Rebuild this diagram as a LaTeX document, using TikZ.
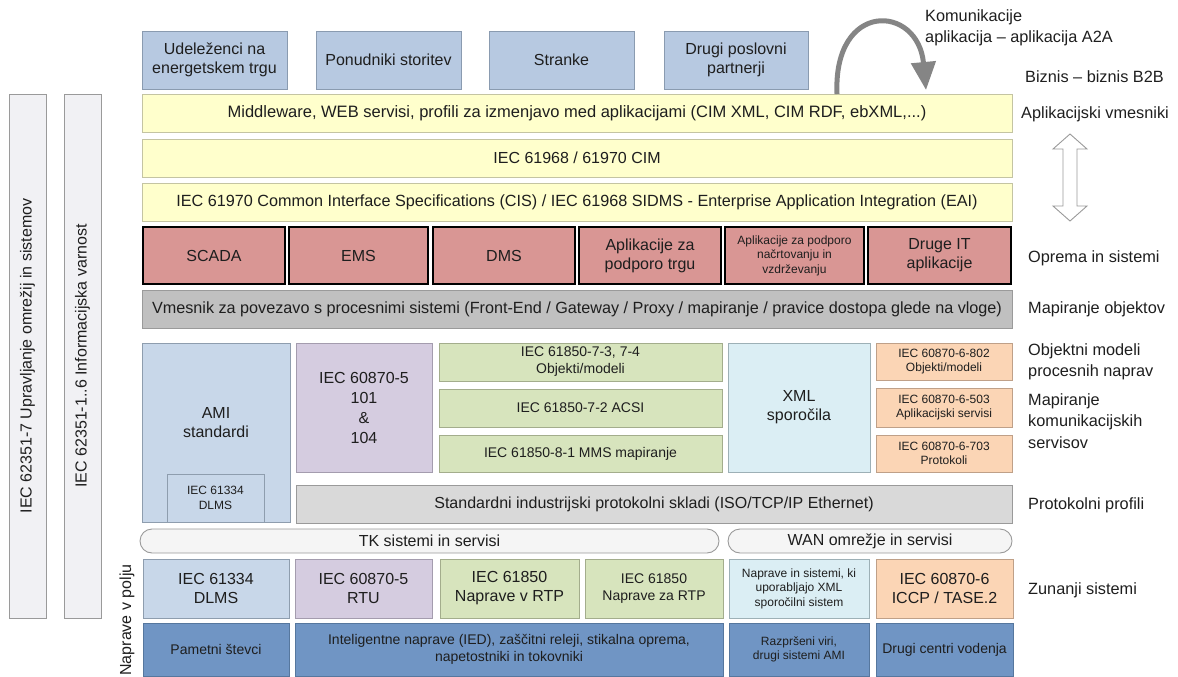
\documentclass[tikz,border=0pt]{standalone}
\usepackage{fontspec}
\setmainfont{Liberation Sans}
\usetikzlibrary{arrows.meta}
\definecolor{txt}{HTML}{1E1E1E}
\definecolor{topblue}{HTML}{B7C9E1}
\definecolor{topblueb}{HTML}{8A9BB0}
\definecolor{yel}{HTML}{FFFFCC}
\definecolor{yelb}{HTML}{C4C4A2}
\definecolor{redf}{HTML}{D99694}
\definecolor{grayband}{HTML}{C0C0C0}
\definecolor{graybandb}{HTML}{9A9A9A}
\definecolor{amiblue}{HTML}{C8D7E9}
\definecolor{amiblueb}{HTML}{8E9DAE}
\definecolor{purp}{HTML}{D5CCE0}
\definecolor{purpb}{HTML}{A49CAE}
\definecolor{grn}{HTML}{D7E4BD}
\definecolor{grnb}{HTML}{A3AD8C}
\definecolor{xmlblue}{HTML}{DBEEF4}
\definecolor{xmlblueb}{HTML}{9DB0B6}
\definecolor{orng}{HTML}{FBD5B5}
\definecolor{orngb}{HTML}{BFA088}
\definecolor{protgray}{HTML}{D9D9D9}
\definecolor{pillf}{HTML}{F5F5F5}
\definecolor{darkblue}{HTML}{7095C4}
\definecolor{darkblueb}{HTML}{56779E}
\definecolor{barf}{HTML}{F1F1F4}
\definecolor{arrgray}{HTML}{858585}
\newcommand\mybox[7]{\node[#1, minimum width={(#4-#2)*1pt}, minimum height={(#5-#3)*1pt}] (#6) at ({(#2+#4)/2},{(#3+#5)/2}) {#7};}
\begin{document}
\begin{tikzpicture}[x=1pt,y=-1pt,
  base/.style={rectangle, draw, line width=0.9pt, inner sep=1pt, align=center, text=txt},
  f16/.style={font=\fontsize{16}{19}\selectfont},
  f15/.style={font=\fontsize{15}{19}\selectfont},
  f14/.style={font=\fontsize{14}{17}\selectfont},
  f13/.style={font=\fontsize{13}{16}\selectfont},
  f12/.style={font=\fontsize{12}{14.5}\selectfont},
  topbox/.style={base, f16, fill=topblue, draw=topblueb},
  yelbox/.style={base, f16, fill=yel, draw=yelb},
  redbox/.style={base, fill=redf, draw=black, line width=2pt},
  graybox/.style={base, f16, fill=grayband, draw=graybandb},
  amibox/.style={base, fill=amiblue, draw=amiblueb},
  purpbox/.style={base, f16, fill=purp, draw=purpb},
  grnbox/.style={base, fill=grn, draw=grnb},
  xmlbox/.style={base, fill=xmlblue, draw=xmlblueb},
  orbox/.style={base, fill=orng, draw=orngb},
  protbox/.style={base, f16, fill=protgray, draw=graybandb},
  pill/.style={base, f16, fill=pillf, draw=graybandb, rounded corners=12pt},
  dbbox/.style={base, fill=darkblue, draw=darkblueb},
  vbar/.style={base, f16, fill=barf, draw=graybandb, rotate=90},
  lbl/.style={anchor=west, inner sep=0, align=left, text=txt, font=\fontsize{16.3}{21.5}\selectfont}
]
\useasboundingbox (0,0) rectangle (1178,677);

% left vertical bars
\node[vbar, minimum width=524pt, minimum height=37pt] (v1) at (27.5,356) {IEC 62351-7 Upravljanje omrežij in sistemov};
\node[vbar, minimum width=524pt, minimum height=37pt] (v2) at (82.5,356) {IEC 62351-1..6 Informacijska varnost};
\node[rotate=90, inner sep=0, text=txt, f16] (polje) at (127,620) {Naprave v polju};

% top boxes
\mybox{topbox}{142}{31}{287}{89}{t1}{Udeleženci na\\energetskem trgu}
\mybox{topbox}{316}{31}{461}{89}{t2}{Ponudniki storitev}
\mybox{topbox}{489}{31}{634}{89}{t3}{Stranke}
\mybox{topbox}{664}{31}{808}{89}{t4}{Drugi poslovni\\partnerji}

% yellow bands
\mybox{yelbox, font=\fontsize{16.5}{19}\selectfont}{142}{94}{1012}{132}{y1}{Middleware, WEB servisi, profili za izmenjavo med aplikacijami (CIM XML, CIM RDF, ebXML,...)}
\mybox{yelbox}{142}{139}{1012}{177}{y2}{IEC 61968 / 61970 CIM}
\mybox{yelbox, font=\fontsize{16.2}{19}\selectfont}{142}{183}{1012}{221}{y3}{IEC 61970 Common Interface Specifications (CIS) / IEC 61968 SIDMS - Enterprise Application Integration (EAI)}

% red boxes
\mybox{redbox,f16}{143}{227}{285}{284}{r1}{SCADA}
\mybox{redbox,f16}{289}{227}{428}{284}{r2}{EMS}
\mybox{redbox,f16}{433}{227}{575}{284}{r3}{DMS}
\mybox{redbox,f16}{579}{227}{721}{284}{r4}{Aplikacije za\\podporo trgu}
\mybox{redbox,f12}{725}{227}{864}{284}{r5}{Aplikacije za podporo\\načrtovanju in\\vzdrževanju}
\mybox{redbox,f16}{868}{227}{1011}{284}{r6}{Druge IT\\aplikacije}

% gray band
\mybox{graybox, font=\fontsize{16.2}{19}\selectfont}{142}{290}{1012}{328}{g1}{Vmesnik za povezavo s procesnimi sistemi (Front-End / Gateway / Proxy / mapiranje / pravice dostopa glede na vloge)}

% lower section
\mybox{amibox}{142}{343}{290}{522}{ami}{}
\node[f16, text=txt, align=center, inner sep=0] (amitxt) at (216,423) {AMI\\standardi};
\mybox{amibox,f12}{167}{474}{264}{522}{dlms1}{IEC 61334\\DLMS}
\mybox{purpbox, font=\fontsize{16}{20}\selectfont}{296}{343}{432}{472}{p1}{IEC 60870-5\\101\\\&\\104}
\mybox{grnbox,f14}{439}{343}{722}{381}{gr1}{IEC 61850-7-3, 7-4\\Objekti/modeli}
\mybox{grnbox,f14}{439}{389}{722}{427}{gr2}{IEC 61850-7-2 ACSI}
\mybox{grnbox,f14}{439}{435}{722}{472}{gr3}{IEC 61850-8-1 MMS mapiranje}
\mybox{xmlbox,f16}{728}{343}{870}{472}{xml}{\raisebox{-14pt}{\begin{tabular}{@{}c@{}}XML\\sporočila\end{tabular}}}
\mybox{orbox,f12}{876}{343}{1012}{380}{o1}{IEC 60870-6-802\\Objekti/modeli}
\mybox{orbox,f12}{876}{388}{1012}{427}{o2}{IEC 60870-6-503\\Aplikacijski servisi}
\mybox{orbox,f12}{876}{435}{1012}{472}{o3}{IEC 60870-6-703\\Protokoli}
\mybox{protbox}{296}{485}{1012}{523}{prot}{Standardni industrijski protokolni skladi (ISO/TCP/IP Ethernet)}

% pills
\mybox{pill}{140}{529}{719}{553}{tk}{TK sistemi in servisi}
\mybox{pill}{728}{529}{1012}{553}{wan}{WAN omrežje in servisi}

% external systems row
\mybox{amibox,f16}{143}{559}{289}{618}{z1}{IEC 61334\\DLMS}
\mybox{purpbox}{295}{559}{432}{618}{z2}{IEC 60870-5\\RTU}
\mybox{grnbox,f16}{440}{559}{579}{618}{z3}{IEC 61850\\Naprave v RTP}
\mybox{grnbox,f14}{585}{559}{723}{618}{z4}{IEC 61850\\Naprave za RTP}
\mybox{xmlbox,f12}{729}{559}{869}{618}{z5}{Naprave in sistemi, ki\\uporabljajo XML\\sporočilni sistem}
\mybox{orbox,f16}{876}{559}{1013}{618}{z6}{IEC 60870-6\\ICCP / TASE.2}

% bottom row
\mybox{dbbox,f14}{143}{623}{289}{676}{b1}{Pametni števci}
\mybox{dbbox,f14}{295}{623}{723}{676}{b2}{Inteligentne naprave (IED), zaščitni releji, stikalna oprema,\\napetostniki in tokovniki}
\mybox{dbbox,f12}{729}{623}{869}{676}{b3}{Razpršeni viri,\\drugi sistemi AMI}
\mybox{dbbox,f14}{876}{623}{1013}{676}{b4}{Drugi centri vodenja}

% curved A2A arrow
\coordinate (a2as) at (837,94);
\coordinate (a2ae) at (926,90);
\draw[arrgray, line width=5pt, -{Triangle[length=28pt,width=24pt]}] (a2as) .. controls (833,0) and (918,4) .. (a2ae);

% hollow double arrow
\draw[draw=graybandb, fill=white, line width=0.9pt]
  (1070,134) -- (1087,149) -- (1077,149) -- (1077,206) -- (1087,206) -- (1070,221)
  -- (1053,206) -- (1063,206) -- (1063,149) -- (1053,149) -- cycle;

% right labels
\node[lbl] (l1) at (925,28) {Komunikacije\\aplikacija – aplikacija A2A};
\node[lbl] (l2) at (1025,77) {Biznis – biznis B2B};
\node[lbl] (l3) at (1021,114) {Aplikacijski vmesniki};
\node[lbl] (l4) at (1028,258) {Oprema in sistemi};
\node[lbl] (l5) at (1028,309) {Mapiranje objektov};
\node[lbl] (l6) at (1028,362) {Objektni modeli\\procesnih naprav};
\node[lbl] (l7) at (1028,421) {Mapiranje\\komunikacijskih\\servisov};
\node[lbl] (l8) at (1028,505) {Protokolni profili};
\node[lbl] (l9) at (1028,590) {Zunanji sistemi};
\end{tikzpicture}
\end{document}
